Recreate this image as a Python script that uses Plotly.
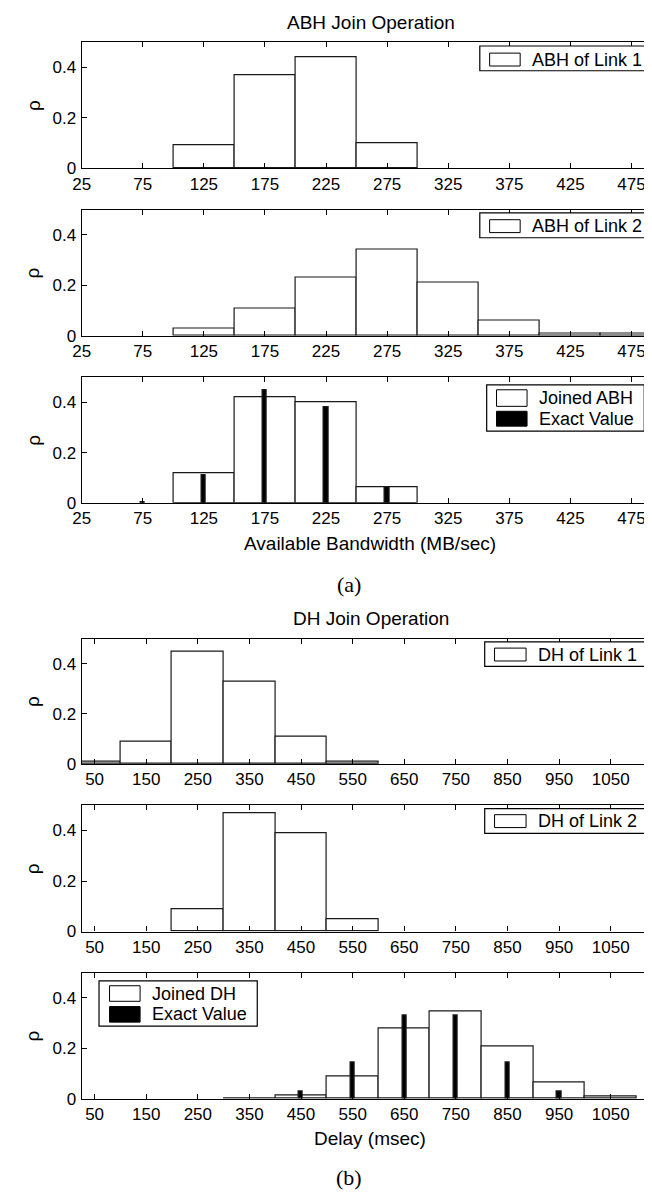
import plotly.graph_objects as go

# ---------------- data ----------------
abh_ticks = [25, 75, 125, 175, 225, 275, 325, 375, 425, 475]
abh_bin_width = 50

abh_link1_centers = [125, 175, 225, 275]
abh_link1_rho = [0.09, 0.37, 0.44, 0.10]

abh_link2_centers = [125, 175, 225, 275, 325, 375, 425, 475]
abh_link2_rho = [0.03, 0.11, 0.232, 0.342, 0.21, 0.06, 0.011, 0.011]

abh_joined_centers = [125, 175, 225, 275]
abh_joined_rho = [0.118, 0.42, 0.401, 0.064]

abh_exact_centers = [75, 125, 175, 225, 275]
abh_exact_rho = [0.004, 0.11, 0.45, 0.382, 0.063]

dh_ticks = [50, 150, 250, 350, 450, 550, 650, 750, 850, 950, 1050]
dh_bin_width = 100

dh_link1_centers = [50, 150, 250, 350, 450, 550]
dh_link1_rho = [0.009, 0.088, 0.45, 0.329, 0.109, 0.008]

dh_link2_centers = [250, 350, 450, 550]
dh_link2_rho = [0.09, 0.469, 0.39, 0.05]

dh_joined_centers = [350, 450, 550, 650, 750, 850, 950, 1050]
dh_joined_rho = [0.002, 0.013, 0.088, 0.277, 0.346, 0.205, 0.063, 0.009]

dh_exact_centers = [450, 550, 650, 750, 850, 950]
dh_exact_rho = [0.03, 0.144, 0.328, 0.328, 0.144, 0.03]

# ---------------- layout helpers ----------------
W, H = 652, 1194
SANS = "Liberation Sans, Arial, Helvetica, sans-serif"
SERIF = "Liberation Serif, Times New Roman, serif"
EDGE = "#1a1a1a"

def px(x):
    return x / W

def py(y):
    return 1 - y / H

fig = go.Figure()

panels = [
    (34.5, 161.5, [25, 497.5], abh_ticks,
     [(abh_link1_centers, abh_link1_rho, abh_bin_width, "white", "ABH of Link 1")]),
    (203.3, 330.7, [25, 497.5], abh_ticks,
     [(abh_link2_centers, abh_link2_rho, abh_bin_width, "white", "ABH of Link 2")]),
    (372.3, 499.0, [25, 497.5], abh_ticks,
     [(abh_joined_centers, abh_joined_rho, abh_bin_width, "white", "Joined ABH"),
      (abh_exact_centers, abh_exact_rho, 3.5, "black", "Exact Value")]),
    (636.0, 762.3, [25, 1143.5], dh_ticks,
     [(dh_link1_centers, dh_link1_rho, dh_bin_width, "white", "DH of Link 1")]),
    (804.0, 931.3, [25, 1143.5], dh_ticks,
     [(dh_link2_centers, dh_link2_rho, dh_bin_width, "white", "DH of Link 2")]),
    (972.7, 1100.0, [25, 1143.5], dh_ticks,
     [(dh_joined_centers, dh_joined_rho, dh_bin_width, "white", "Joined DH"),
      (dh_exact_centers, dh_exact_rho, 8, "black", "Exact Value")]),
]

layout_axes = {}
for i, (top, bot, xr, ticks, traces) in enumerate(panels, start=1):
    xa = "x" if i == 1 else f"x{i}"
    ya = "y" if i == 1 else f"y{i}"
    for centers, vals, width, color, name in traces:
        fig.add_trace(go.Bar(
            x=centers, y=vals, width=width,
            marker=dict(color=color, line=dict(color=EDGE, width=1.2)),
            name=name, showlegend=False, xaxis=xa, yaxis=ya,
        ))
    axis_common = dict(
        showline=True, linecolor="black", linewidth=1.2, mirror="ticks",
        ticks="inside", ticklen=5, tickwidth=1, tickcolor="black",
        showgrid=False, zeroline=False,
        tickfont=dict(family=SANS, size=17, color="black"),
    )
    layout_axes["xaxis" if i == 1 else f"xaxis{i}"] = dict(
        axis_common, domain=[px(65.7), 1.0], range=xr,
        tickvals=ticks, ticktext=[str(t) for t in ticks],
        anchor=ya, ticklabelstandoff=0,
    )
    layout_axes["yaxis" if i == 1 else f"yaxis{i}"] = dict(
        axis_common, domain=[py(bot), py(top)], range=[0, 0.5],
        tickvals=[0, 0.2, 0.4], ticktext=["0", "0.2", "0.4"],
        anchor=xa, ticklabelstandoff=1,
    )
    fig.add_annotation(
        text="ρ", x=px(16), y=py((top + bot) / 2), xref="paper", yref="paper",
        textangle=-90, showarrow=False, xanchor="center", yanchor="middle",
        font=dict(family=SANS, size=19, color="black"),
    )

fig.update_layout(**layout_axes)

# ---------------- legends (drawn boxes) ----------------
legends = [
    ((470, 38.3, 643.6, 63.3), [("ABH of Link 1", "white", 45.5, 58.5)], 480, 511),
    ((470, 206.7, 643.6, 231.7), [("ABH of Link 2", "white", 213.5, 226.5)], 480, 511),
    ((477, 380, 637, 426.7), [("Joined ABH", "white", 385, 401.7),
                              ("Exact Value", "black", 406.7, 421.7)], 487, 518),
    ((475, 639.3, 638, 664), [("DH of Link 1", "white", 645.5, 658.5)], 485, 517),
    ((475, 807.3, 638, 832.3), [("DH of Link 2", "white", 813.5, 826.5)], 485, 517),
    ((83.3, 981, 244, 1026.7), [("Joined DH", "white", 986, 1001.7),
                                ("Exact Value", "black", 1007, 1022.7)], 94, 125),
]
for (x0, y0, x1, y1), entries, sx0, sx1 in legends:
    fig.add_shape(type="rect", xref="paper", yref="paper",
                  x0=px(x0), x1=px(x1), y0=py(y1), y1=py(y0),
                  line=dict(color="black", width=1.2), fillcolor="white", layer="above")
    for label, fill, sy0, sy1 in entries:
        fig.add_shape(type="rect", xref="paper", yref="paper",
                      x0=px(sx0), x1=px(sx1), y0=py(sy1), y1=py(sy0),
                      line=dict(color="black", width=1), fillcolor=fill, layer="above")
        fig.add_annotation(text=label, xref="paper", yref="paper",
                           x=px(sx1 + 10), y=py((sy0 + sy1) / 2),
                           xanchor="left", yanchor="middle", showarrow=False,
                           font=dict(family=SANS, size=18, color="black"))

# ---------------- titles / labels ----------------
texts = [
    ("ABH Join Operation", 360, 15, SANS, 19),
    ("Available Bandwidth (MB/sec)", 359, 540, SANS, 19),
    ("(a)", 337, 581, SERIF, 22),
    ("DH Join Operation", 360, 615.5, SANS, 19),
    ("Delay (msec)", 359, 1140, SANS, 19),
    ("(b)", 337, 1179, SERIF, 22),
]
for t, x, y, fam, size in texts:
    fig.add_annotation(text=t, xref="paper", yref="paper", x=px(x), y=py(y),
                       xanchor="center", yanchor="middle", showarrow=False,
                       font=dict(family=fam, size=size, color="black"))

fig.update_layout(
    width=W, height=H, margin=dict(l=0, r=0, t=0, b=0),
    paper_bgcolor="white", plot_bgcolor="white",
    barmode="overlay", bargap=0, showlegend=False,
)

fig.write_html("out.html")
